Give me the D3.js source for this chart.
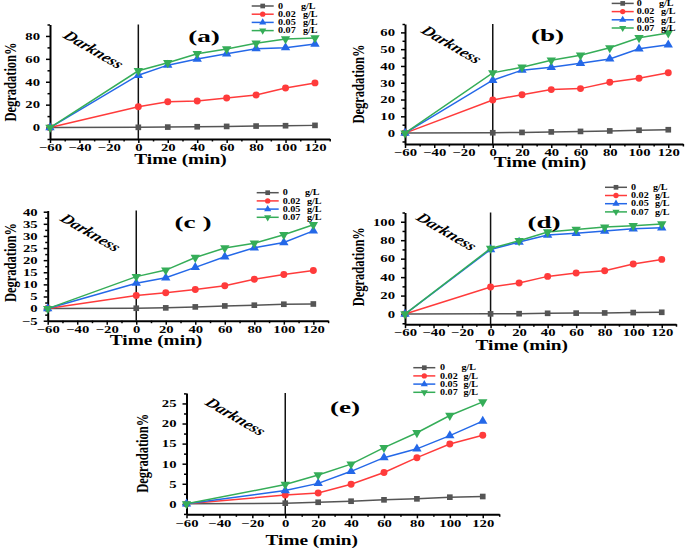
<!DOCTYPE html>
<html><head><meta charset="utf-8">
<script src="https://cdn.jsdelivr.net/npm/d3@7"></script>
<style>
html,body{margin:0;padding:0;background:#fff;}
svg{display:block;}
</style></head>
<body>
<svg id="chart" width="685" height="548"></svg>
<script>
// ---- data ----
const times = [-60, 0, 20, 40, 60, 80, 100, 120];
const seriesNames = ["0", "0.02", "0.05", "0.07"];
const unitLabel = "g/L";
const xTicks = [-60, -40, -20, 0, 20, 40, 60, 80, 100, 120];

const dataA0   = [0, 0.2, 0.4, 0.7, 1.0, 1.3, 1.6, 1.9];
const dataA002 = [0, 18.2, 22.6, 23.2, 25.8, 28.4, 34.6, 39.0];
const dataA005 = [0, 45.7, 54.5, 59.8, 64.5, 68.9, 69.8, 73.0];
const dataA007 = [0, 49.6, 56.6, 64.5, 68.6, 73.6, 77.4, 78.3];

const dataB0   = [0, 0.2, 0.4, 0.7, 1.0, 1.3, 1.7, 2.0];
const dataB002 = [0, 19.7, 22.9, 25.9, 26.5, 30.3, 32.7, 35.9];
const dataB005 = [0, 31.5, 37.5, 39.2, 41.6, 44.2, 50.2, 52.6];
const dataB007 = [0, 35.9, 39.2, 43.4, 46.4, 50.8, 56.8, 59.6];

const dataC0   = [0, 0.15, 0.3, 0.7, 1.1, 1.4, 1.8, 1.9];
const dataC002 = [0, 5.4, 6.5, 7.9, 9.4, 12.1, 14.1, 15.7];
const dataC005 = [0, 10.5, 12.7, 17.0, 21.4, 25.1, 27.3, 32.1];
const dataC007 = [0, 13.2, 15.9, 21.1, 25.0, 27.0, 30.5, 34.6];

const dataD0   = [0, 0.2, 0.4, 0.8, 1.0, 1.2, 1.6, 1.9];
const dataD002 = [0, 29.2, 33.6, 40.8, 44.4, 46.9, 54.2, 59.2];
const dataD005 = [0, 70.0, 78.0, 85.6, 87.4, 89.9, 92.4, 93.5];
const dataD007 = [0, 71.1, 79.4, 88.8, 91.7, 94.2, 95.7, 97.5];

const dataE0   = [0, 0.17, 0.4, 0.66, 1.0, 1.25, 1.66, 1.83];
const dataE002 = [0, 2.2, 2.7, 4.9, 7.8, 11.5, 14.9, 17.1];
const dataE005 = [0, 3.3, 5.1, 8.1, 11.5, 13.7, 17.0, 20.6];
const dataE007 = [0, 4.8, 7.2, 9.9, 14.0, 17.7, 22.0, 25.4];

const yTicksA = [0, 20, 40, 60, 80];
const yTicksB = [0, 10, 20, 30, 40, 50, 60];
const yTicksC = [-5, 0, 5, 10, 15, 20, 25, 30, 35, 40];
const yTicksD = [0, 20, 40, 60, 80, 100];
const yTicksE = [0, 5, 10, 15, 20, 25];

const panelLabels = ["(a)", "(b)", "(c )", "(d)", "(e)"];

// ---- styles / layout ----
const colors = ["#555555", "#ff3b3b", "#2468e8", "#35ad58"];
const symbols = [d3.symbolSquare, d3.symbolCircle, d3.symbolTriangle, d3.symbolTriangle];
const symRot = [0, 0, 0, 180];
const FONT = "'Liberation Serif','Times New Roman',serif";

const panels = [
  {label: panelLabels[0], data: [dataA0, dataA002, dataA005, dataA007], yTicks: yTicksA, yMinor: [-10, 10, 30, 50, 70, 90],
   yDom: [-10, 90], yRange: [139, 24.5], xRange: [50, 329.7],
   legend: {x: 251.7, y: 6, tx: 278, gx: 303}, title: {x: 180.5, y: 163.5}, ylab: {x: 15.5, y: 82},
   dark: {x: 62, y: 37}, lab: {x: 204, y: 42}},
  {label: panelLabels[1], data: [dataB0, dataB002, dataB005, dataB007], yTicks: yTicksB, yMinor: [-5, 5, 15, 25, 35, 45, 55, 65],
   yDom: [-6.5, 65], yRange: [144, 24], xRange: [405, 682.9],
   legend: {x: 611.7, y: 3.4, tx: 636.7, gx: 661}, title: {x: 540, y: 166.5}, ylab: {x: 363.5, y: 84},
   dark: {x: 420, y: 32}, lab: {x: 547.5, y: 41}},
  {label: panelLabels[2], data: [dataC0, dataC002, dataC005, dataC007], yTicks: yTicksC, yMinor: [-2.5, 2.5, 7.5, 12.5, 17.5, 22.5, 27.5, 32.5, 37.5],
   yDom: [-5, 40.5], yRange: [320.7, 210.5], xRange: [47.7, 328.1],
   legend: {x: 256.7, y: 192.7, tx: 282.7, gx: 307}, title: {x: 156, y: 345}, ylab: {x: 15.5, y: 262.5},
   dark: {x: 59, y: 220}, lab: {x: 193, y: 228}},
  {label: panelLabels[3], data: [dataD0, dataD002, dataD005, dataD007], yTicks: yTicksD, yMinor: [-10, 10, 30, 50, 70, 90, 110],
   yDom: [-11, 110], yRange: [324.2, 212.5], xRange: [405, 676],
   legend: {x: 605, y: 187.3, tx: 631, gx: 655}, title: {x: 521.7, y: 350}, ylab: {x: 363.5, y: 266.7},
   dark: {x: 415, y: 219}, lab: {x: 544, y: 228}},
  {label: panelLabels[4], data: [dataE0, dataE002, dataE005, dataE007], yTicks: yTicksE, yMinor: [-2.5, 2.5, 7.5, 12.5, 17.5, 22.5, 27.5],
   yDom: [-2.6, 27.6], yRange: [514.3, 393], xRange: [186.5, 499.2],
   legend: {x: 413.3, y: 367.7, tx: 440, gx: 463.5}, title: {x: 311.7, y: 545}, ylab: {x: 147.5, y: 453.3},
   dark: {x: 204, y: 404}, lab: {x: 345, y: 413}}
];

const svg = d3.select("#chart");
const xMinor = d3.range(-50, 131, 20);

panels.forEach(p => {
  const g = svg.append("g");
  const x = d3.scaleLinear().domain([-60, 130]).range(p.xRange);
  const y = d3.scaleLinear().domain(p.yDom).range(p.yRange);
  const x0 = p.xRange[0], yb = p.yRange[0], yt = p.yRange[1];

  // axes
  const xAxis = d3.axisBottom(x).tickValues(xTicks).tickSize(4).tickSizeOuter(0).tickPadding(3);
  const gx = g.append("g").attr("transform", `translate(0,${yb})`).call(xAxis);
  g.append("g").attr("transform", `translate(0,${yb})`)
    .call(d3.axisBottom(x).tickValues(xMinor).tickSize(2.5).tickFormat("").tickSizeOuter(0))
    .call(s => s.select(".domain").remove());
  const yAxis = d3.axisLeft(y).tickValues(p.yTicks).tickSize(4).tickSizeOuter(0);
  const gy = g.append("g").attr("transform", `translate(${x0},0)`).call(yAxis);
  g.append("g").attr("transform", `translate(${x0},0)`)
    .call(d3.axisLeft(y).tickValues(p.yMinor.filter(v => v >= p.yDom[0] && v <= p.yDom[1])).tickSize(2.5).tickFormat("").tickSizeOuter(0))
    .call(s => s.select(".domain").remove());

  g.selectAll(".domain").attr("stroke", "#000").attr("stroke-width", 2);
  g.selectAll(".tick line").attr("stroke", "#000").attr("stroke-width", 1.5);
  gx.selectAll(".tick text")
    .attr("y", 0).attr("dy", 0)
    .attr("transform", "translate(0,12.2) scale(1.55,1)")
    .attr("font-family", FONT).attr("font-weight", "bold").attr("font-size", 9.5).attr("fill", "#000");
  gy.selectAll(".tick text")
    .attr("x", 0).attr("dy", "0.35em")
    .attr("transform", "translate(-10,0) scale(1.55,1)")
    .attr("font-family", FONT).attr("font-weight", "bold").attr("font-size", 9.5).attr("fill", "#000");

  // darkness divider
  g.append("line").attr("x1", x(0)).attr("x2", x(0)).attr("y1", yt).attr("y2", yb)
    .attr("stroke", "#111").attr("stroke-width", 1.5);

  // series
  p.data.forEach((vals, i) => {
    const pts = times.map((t, k) => [t, vals[k]]);
    g.append("path").datum(pts)
      .attr("fill", "none").attr("stroke", colors[i]).attr("stroke-width", 1.5)
      .attr("d", d3.line().x(d => x(d[0])).y(d => y(d[1])));
    g.selectAll(null).data(pts).enter().append("path")
      .attr("d", d3.symbol().type(symbols[i]).size(i === 0 ? 32 : 38))
      .attr("transform", d => `translate(${x(d[0])},${y(d[1])}) rotate(${symRot[i]})`)
      .attr("fill", colors[i]);
  });

  // legend
  seriesNames.forEach((nm, i) => {
    const ly = p.legend.y + i * 8.2;
    g.append("line").attr("x1", p.legend.x).attr("x2", p.legend.x + 22).attr("y1", ly).attr("y2", ly)
      .attr("stroke", colors[i]).attr("stroke-width", 1.5);
    g.append("path").attr("d", d3.symbol().type(symbols[i]).size(22))
      .attr("transform", `translate(${p.legend.x + 11},${ly}) rotate(${symRot[i]})`).attr("fill", colors[i]);
    g.append("text").text(nm).attr("transform", `translate(${p.legend.tx},${ly + 2.7}) scale(1.3,1)`)
      .attr("font-family", FONT).attr("font-weight", "bold").attr("font-size", 7.8);
    g.append("text").text(unitLabel).attr("transform", `translate(${p.legend.gx + (i === 0 ? -2 : 0)},${ly + 2.7}) scale(1.3,1)`)
      .attr("font-family", FONT).attr("font-weight", "bold").attr("font-size", 7.8);
  });

  // axis titles
  g.append("text").text("Time (min)")
    .attr("transform", `translate(${p.title.x},${p.title.y}) scale(1.38,1)`)
    .attr("text-anchor", "middle").attr("font-family", FONT).attr("font-weight", "bold").attr("font-size", 14);
  g.append("text").text("Degradation%")
    .attr("transform", `translate(${p.ylab.x},${p.ylab.y}) scale(1.4,1) rotate(-90)`)
    .attr("text-anchor", "middle").attr("font-family", FONT).attr("font-weight", "bold").attr("font-size", 12.5);

  // Darkness annotation
  g.append("text").text("Darkness")
    .attr("transform", `translate(${p.dark.x},${p.dark.y}) scale(1.35,1) rotate(38)`)
    .attr("font-family", FONT).attr("font-weight", "bold").attr("font-style", "italic").attr("font-size", 13.5);

  // panel label
  g.append("text").text(p.label)
    .attr("transform", `translate(${p.lab.x},${p.lab.y}) scale(1.6,1)`)
    .attr("text-anchor", "middle").attr("font-family", FONT).attr("font-weight", "bold").attr("font-size", 17);
});
</script>
</body></html>
